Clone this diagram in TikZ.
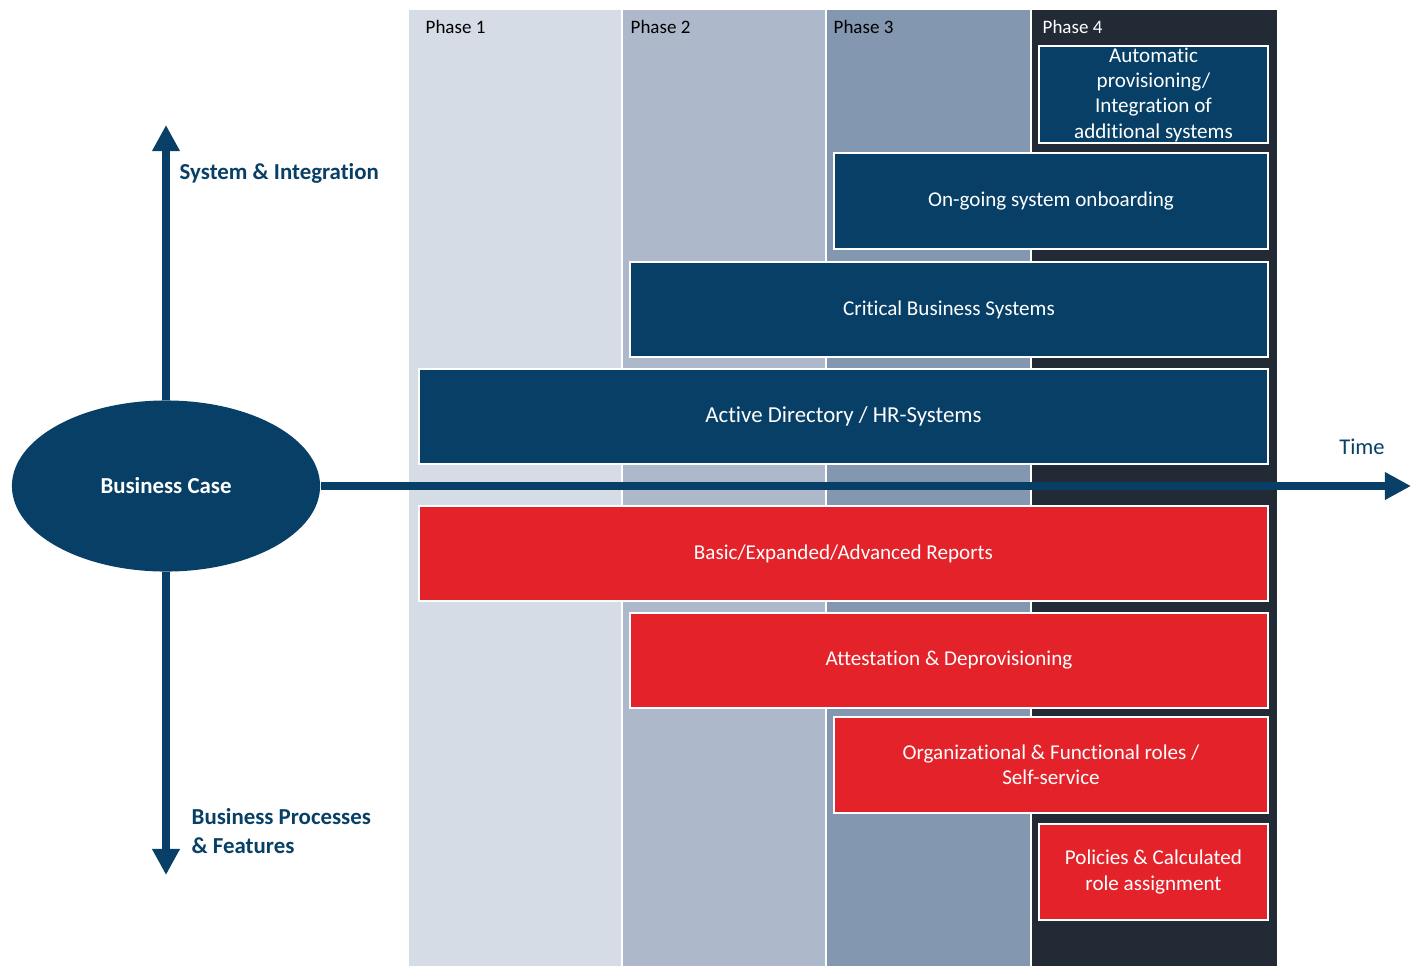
\documentclass[tikz,border=0pt]{standalone}
\usepackage{fontspec}
\setmainfont{Carlito}[Ligatures=NoCommon]
\usetikzlibrary{shapes.geometric,arrows.meta}
\definecolor{navy}{HTML}{073F66}
\definecolor{barred}{HTML}{E3222A}
\definecolor{phaseA}{HTML}{D6DCE5}
\definecolor{phaseB}{HTML}{ADB9CA}
\definecolor{phaseC}{HTML}{8497B0}
\definecolor{phaseD}{HTML}{222A35}
\tikzset{
  basebox/.style={draw=white,line width=0.6pt,text=white,align=center,inner sep=0pt,
    font=\fontsize{6}{7.2}\selectfont},
  sysbox/.style={basebox,fill=navy},
  procbox/.style={basebox,fill=barred},
  axis/.style={navy,line width=2.3pt,-{Triangle[width=7.4pt,length=7.4pt]}},
  phaselbl/.style={anchor=west,inner sep=0pt,font=\fontsize{5.4}{6.5}\selectfont},
  axislbl/.style={navy,inner sep=0pt,font=\bfseries\fontsize{6.5}{8}\selectfont}
}
\begin{document}
\begin{tikzpicture}[x=0.01cm,y=-0.01cm]
\useasboundingbox (0,0) rectangle (1411,966);
% phase columns
\fill[phaseA] (409,10) rectangle (622,966);
\fill[phaseB] (622,10) rectangle (826,966);
\fill[phaseC] (826,10) rectangle (1031,966);
\fill[phaseD] (1031,10) rectangle (1277,966);
\draw[white,line width=0.5pt] (622,10) -- (622,966) (826,10) -- (826,966) (1031,10) -- (1031,966);
\node[phaselbl] (ph1) at (425,27) {Phase 1};
\node[phaselbl] (ph2) at (630,27) {Phase 2};
\node[phaselbl] (ph3) at (833,27) {Phase 3};
\node[phaselbl,text=white] (ph4) at (1042,27) {Phase 4};
% system side
\node[sysbox,minimum width=2.29cm,minimum height=0.97cm] (autoprov) at (1153.5,94.5)
  {Automatic\\provisioning/\\Integration of\\additional systems};
\node[sysbox,minimum width=4.34cm,minimum height=0.96cm] (onboard) at (1051,201) {On-going system onboarding};
\node[sysbox,minimum width=6.38cm,minimum height=0.95cm] (critical) at (949,309.5) {Critical Business Systems};
\node[sysbox,minimum width=8.49cm,minimum height=0.95cm,font=\fontsize{6.5}{7.8}\selectfont] (adhr) at (843.5,416.5)
  {Active Directory / HR-Systems};
% process side
\node[procbox,minimum width=8.49cm,minimum height=0.95cm] (reports) at (843.5,553.5) {Basic/Expanded/Advanced Reports};
\node[procbox,minimum width=6.38cm,minimum height=0.95cm] (attest) at (949,660.5) {Attestation \& Deprovisioning};
\node[procbox,minimum width=4.34cm,minimum height=0.96cm] (roles) at (1051,765)
  {Organizational \& Functional roles /\\Self-service};
\node[procbox,minimum width=2.29cm,minimum height=0.96cm] (policies) at (1153.5,872)
  {Policies \& Calculated\\role assignment};
% axes
\node[ellipse,fill=navy,text=white,minimum width=3.08cm,minimum height=1.71cm,
  font=\bfseries\fontsize{6.5}{7.8}\selectfont] (case) at (166,486) {Business Case};
\coordinate (sysend) at (166,125);
\coordinate (procend) at (166,875);
\coordinate (timeend) at (1411,486);
\draw[axis] (case.north) -- (sysend);
\draw[axis] (case.south) -- (procend);
\draw[axis] (case.east) -- (timeend);
\node[axislbl,anchor=west] (syslbl) at (179,173) {System \& Integration};
\node[axislbl,anchor=west,align=left] (proclbl) at (191,831) {Business Processes\\\& Features};
\node[navy,inner sep=0pt,font=\fontsize{6.4}{7.7}\selectfont] (timelbl) at (1362,447) {Time};
\end{tikzpicture}
\end{document}
